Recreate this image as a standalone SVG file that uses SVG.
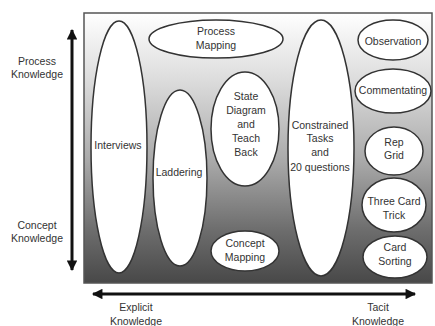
<svg xmlns="http://www.w3.org/2000/svg" width="435" height="326" viewBox="0 0 435 326">
<defs>
<linearGradient id="bg" x1="0" y1="0" x2="0" y2="1">
<stop offset="0" stop-color="#ffffff"/>
<stop offset="0.25" stop-color="#dcdcdc"/>
<stop offset="0.55" stop-color="#a9a9a9"/>
<stop offset="0.8" stop-color="#6e6e6e"/>
<stop offset="1" stop-color="#484848"/>
</linearGradient>
<marker id="ah" viewBox="0 0 10 10" refX="9" refY="5" markerWidth="4" markerHeight="3.5" orient="auto-start-reverse" markerUnits="strokeWidth">
<path d="M0,0 L10,5 L0,10 Z" fill="#111"/>
</marker>
<style>
.n{fill:#fff;stroke:#333;stroke-width:1.5}
.t{font-family:"Liberation Sans",Arial,sans-serif;font-size:10.5px;fill:#333;text-anchor:middle}
.ax{stroke:#111;stroke-width:3;fill:none}
</style>
</defs>
<rect x="84" y="13" width="348" height="270" fill="url(#bg)" stroke="#555" stroke-width="1.5"/>
<g id="connectors">
<line class="ax" x1="72" y1="30" x2="72" y2="270" marker-start="url(#ah)" marker-end="url(#ah)"/>
<line class="ax" x1="93" y1="294" x2="415" y2="294" marker-start="url(#ah)" marker-end="url(#ah)"/>
</g>
<g id="axis-labels">
<text class="t" x="37" y="65">Process</text>
<text class="t" x="37" y="78">Knowledge</text>
<text class="t" x="37" y="229">Concept</text>
<text class="t" x="37" y="242">Knowledge</text>
<text class="t" x="136" y="311">Explicit</text>
<text class="t" x="136" y="325">Knowledge</text>
<text class="t" x="378" y="311">Tacit</text>
<text class="t" x="378" y="325">Knowledge</text>
</g>
<g id="interviews"><ellipse class="n" cx="119" cy="147" rx="28" ry="126"/><text class="t" x="118" y="149">Interviews</text></g>
<g id="laddering"><ellipse class="n" cx="180" cy="178" rx="27" ry="88"/><text class="t" x="179" y="176">Laddering</text></g>
<g id="process-mapping"><ellipse class="n" cx="216" cy="39" rx="67" ry="19"/><text class="t" x="216" y="35">Process</text><text class="t" x="216" y="49">Mapping</text></g>
<g id="state-diagram"><ellipse class="n" cx="245" cy="129" rx="34" ry="57"/>
<text class="t" x="246" y="100">State</text><text class="t" x="246" y="114">Diagram</text><text class="t" x="246" y="128">and</text><text class="t" x="246" y="142">Teach</text><text class="t" x="246" y="156">Back</text></g>
<g id="concept-mapping"><ellipse class="n" cx="245" cy="251" rx="34" ry="20"/><text class="t" x="245" y="247">Concept</text><text class="t" x="245" y="261">Mapping</text></g>
<g id="constrained-tasks"><ellipse class="n" cx="321" cy="148" rx="33" ry="128"/>
<text class="t" x="320" y="129">Constrained</text><text class="t" x="320" y="142">Tasks</text><text class="t" x="320" y="156">and</text><text class="t" x="320" y="171">20 questions</text></g>
<g id="observation"><ellipse class="n" cx="393" cy="40" rx="35" ry="20"/><text class="t" x="393" y="45">Observation</text></g>
<g id="commentating"><ellipse class="n" cx="393" cy="91" rx="38" ry="22"/><text class="t" x="393" y="94">Commentating</text></g>
<g id="rep-grid"><ellipse class="n" cx="394" cy="151" rx="29" ry="24"/><text class="t" x="394" y="146">Rep</text><text class="t" x="394" y="159">Grid</text></g>
<g id="three-card-trick"><ellipse class="n" cx="394" cy="205" rx="32" ry="27"/><text class="t" x="394" y="205">Three Card</text><text class="t" x="394" y="219">Trick</text></g>
<g id="card-sorting"><ellipse class="n" cx="395" cy="257" rx="32" ry="21"/><text class="t" x="395" y="251">Card</text><text class="t" x="395" y="265">Sorting</text></g>
</svg>
